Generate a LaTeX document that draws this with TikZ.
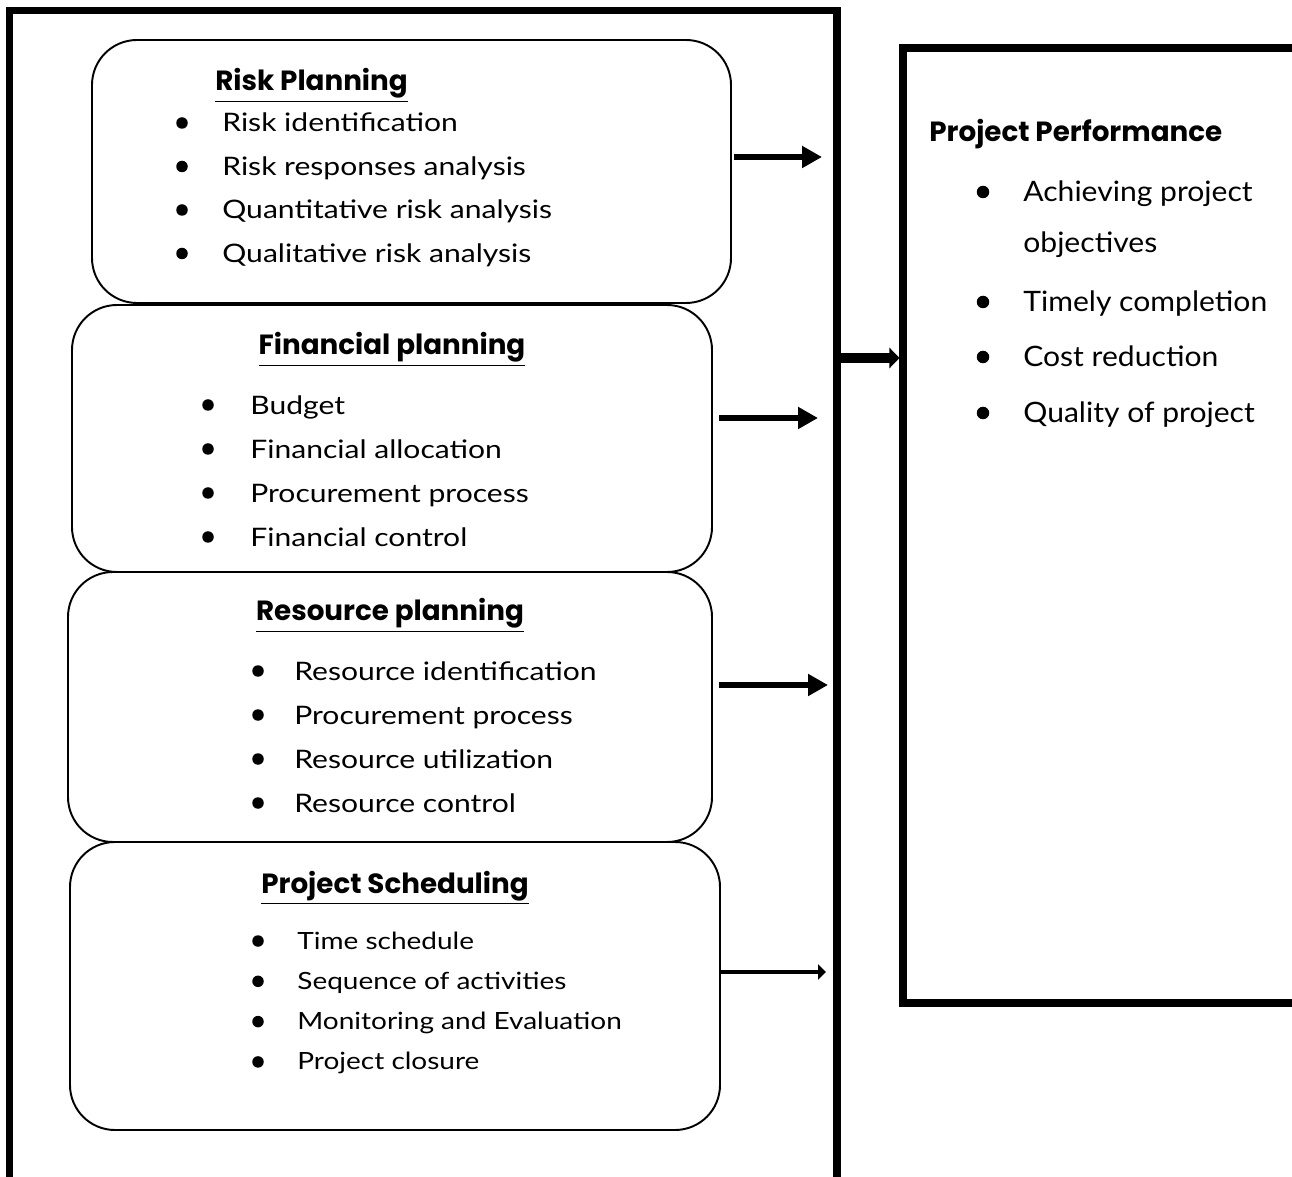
\documentclass[tikz,border=0pt]{standalone}
\usepackage{fontspec}
\setmainfont{Lato}
\newfontfamily\wideface{Lato}[FakeStretch=1.18]
\newfontfamily\perfface{Lato}[FakeStretch=1.07]
\newfontfamily\headface{Poppins}
\usetikzlibrary{arrows.meta,fit,calc}

\tikzset{
    planbox/.style={draw, line width=1.1pt, rounded corners=9mm, inner sep=0pt},
    heavybox/.style={draw, line width=4pt, inner sep=0pt},
    dot/.style={circle, fill, inner sep=0pt, minimum size=2.3mm},
    itemtext/.style={anchor=base west, inner sep=0pt, font=\wideface\fontsize{14.5}{17}\selectfont},
    headtext/.style={anchor=base, inner sep=0pt, font=\headface\bfseries\fontsize{15.8}{18}\selectfont},
    flowarrow/.style={line width=3.8pt, -{Triangle[length=4mm,width=4.2mm]}},
    joinarrow/.style={line width=6pt, -{Triangle[length=2mm,width=4mm]}}
}

\begin{document}
\begin{tikzpicture}[x=0.2mm, y=-0.2mm]
    \useasboundingbox (0,0) rectangle (1292,1177);

    % outer frames
    \node[heavybox, fit={(9.5,10.5) (837,1250)}] (plans) {};
    \node[heavybox, fit={(903,48) (1330,1003)}] (perf) {};

    % planning boxes
    \node[planbox, fit={(92,40) (731,303)}] (risk) {};
    \node[planbox, fit={(72,305) (712,572)}] (fin) {};
    \node[planbox, fit={(68,572) (712,842)}] (res) {};
    \node[planbox, fit={(70,842) (720,1130)}] (sched) {};

    % risk planning
    \node[headtext, anchor=base west] (risk-title) at (215,91) {\underline{Risk Planning}};
    \foreach \txt [count=\i] in {Risk identification, Risk responses analysis,
        Quantitative risk analysis, Qualitative risk analysis}{
        \node[dot] (risk-dot-\i) at (182,{123+43.5*(\i-1)}) {};
        \node[itemtext] (risk-item-\i) at (222,{132+43.5*(\i-1)}) {\txt};
    }

    % financial planning
    \node[headtext] (fin-title) at (392,355) {\underline{Financial planning}};
    \foreach \txt [count=\i] in {Budget, Financial allocation,
        Procurement process, Financial control}{
        \node[dot] (fin-dot-\i) at (208,{405+44*(\i-1)}) {};
        \node[itemtext] (fin-item-\i) at (250,{415+44*(\i-1)}) {\txt};
    }

    % resource planning
    \node[headtext] (res-title) at (390,621) {\underline{Resource planning}};
    \foreach \txt [count=\i] in {Resource identification, Procurement process,
        Resource utilization, Resource control}{
        \node[dot] (res-dot-\i) at (258,{671+44*(\i-1)}) {};
        \node[itemtext] (res-item-\i) at (294,{680+44*(\i-1)}) {\txt};
    }

    % project scheduling
    \node[headtext] (sched-title) at (395,893) {\underline{Project Scheduling}};
    \foreach \txt [count=\i] in {Time schedule, Sequence of activities,
        Monitoring and Evaluation, Project closure}{
        \node[dot] (sched-dot-\i) at (258,{941+40.3*(\i-1)}) {};
        \node[itemtext, font=\wideface\fontsize{13.5}{16}\selectfont] (sched-item-\i) at (297,{949+40.3*(\i-1)}) {\txt};
    }

    % project performance
    \node[headtext, anchor=base west] (perf-title) at (929,142) {Project Performance};
    \foreach \y [count=\i] in {192,302,357,413}{
        \node[dot, minimum size=2.5mm] (perf-dot-\i) at (983,\y) {};
    }
    \tikzset{perfitem/.style={itemtext, font=\perfface\fontsize{16}{19}\selectfont}}
    \node[perfitem] (perf-item-1) at (1023,202) {Achieving project};
    \node[perfitem] (perf-item-1b) at (1023,253) {objectives};
    \node[perfitem] (perf-item-2) at (1023,312) {Timely completion};
    \node[perfitem] (perf-item-3) at (1023,367) {Cost reduction};
    \node[perfitem] (perf-item-4) at (1023,423) {Quality of project};

    % arrows
    \coordinate (risk-to) at (822,157);
    \coordinate (fin-to) at (818,418);
    \coordinate (res-to) at (828,685);
    \coordinate (sched-to) at (826,972);
    \coordinate (mid) at (0,358);
    \draw[flowarrow] ($(risk.east |- risk-to)+(2,0)$) -- (risk-to);
    \draw[flowarrow] ($(fin.east |- fin-to)+(6,0)$) -- (fin-to);
    \draw[flowarrow] ($(res.east |- res-to)+(6,0)$) -- (res-to);
    \draw[line width=2.8pt, -{Triangle[length=1.6mm,width=3mm]}] (sched.east |- sched-to) -- (sched-to);
    \draw[joinarrow] (plans.east |- mid) -- (perf.west |- mid);

\end{tikzpicture}
\end{document}
